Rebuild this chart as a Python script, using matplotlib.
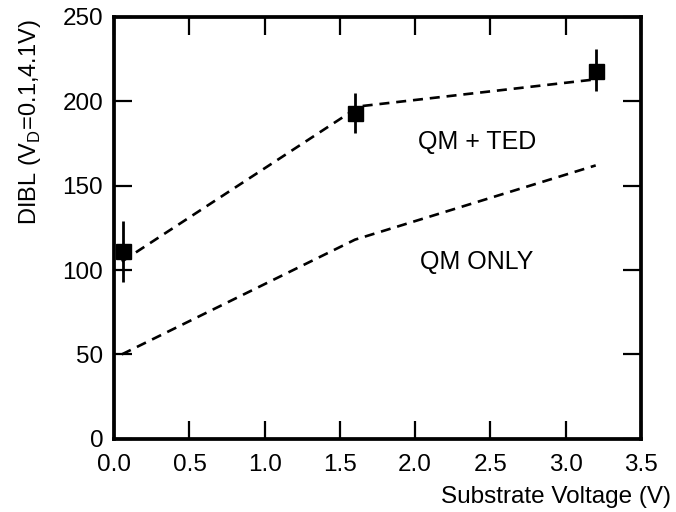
import numpy as np
import matplotlib.pyplot as plt

# measured points (squares with error bars)
vsub = [0.06, 1.6, 3.2]
dibl = [111, 193, 218]
err_lo = [18, 12, 12]
err_hi = [18, 12, 13]

# simulation curves (dashed)
x_ted = [0.05, 1.63, 3.2]
y_ted = [105, 197, 213]
x_qm = [0.05, 1.6, 3.2]
y_qm = [50, 118, 162]

xticks = [0.0, 0.5, 1.0, 1.5, 2.0, 2.5, 3.0, 3.5]
yticks = [0, 50, 100, 150, 200, 250]

plt.rcParams['font.family'] = ['Liberation Sans', 'DejaVu Sans']

fig = plt.figure(figsize=(6.76, 5.12), dpi=100)
ax = fig.add_axes([0.169, 0.143, 0.779, 0.824])

dash = (0, (3.8, 2.6))
ax.plot(x_ted, y_ted, color='black', linestyle=dash, linewidth=1.9)
ax.plot(x_qm, y_qm, color='black', linestyle=dash, linewidth=1.9)
ax.errorbar(vsub, dibl, yerr=[err_lo, err_hi], fmt='s', color='black',
            markersize=10.8, elinewidth=2, capsize=0)

ax.text(2.41, 176, 'QM + TED', fontsize=18, ha='center', va='center')
ax.text(2.41, 105, 'QM ONLY', fontsize=18, ha='center', va='center')

ax.set_xlim(0, 3.5)
ax.set_ylim(0, 250)
ax.set_xticks(xticks)
ax.set_yticks(yticks)
ax.set_xticklabels(['%.1f' % t for t in xticks])
ax.tick_params(direction='in', length=13, width=1.6, labelsize=17.5,
               top=True, right=True)
ax.tick_params(axis='x', pad=11)
ax.tick_params(axis='y', pad=8)
for s in ax.spines.values():
    s.set_linewidth(2.7)

ax.set_xlabel('Substrate Voltage (V)', fontsize=17.5, ha='right')
ax.xaxis.set_label_coords(1.057, -0.112)
ax.set_ylabel('DIBL (V$_\\mathregular{D}$=0.1,4.1V)', fontsize=17)
ax.yaxis.set_label_coords(-0.135, 0.751)

fig.savefig('out.png', dpi=100)
